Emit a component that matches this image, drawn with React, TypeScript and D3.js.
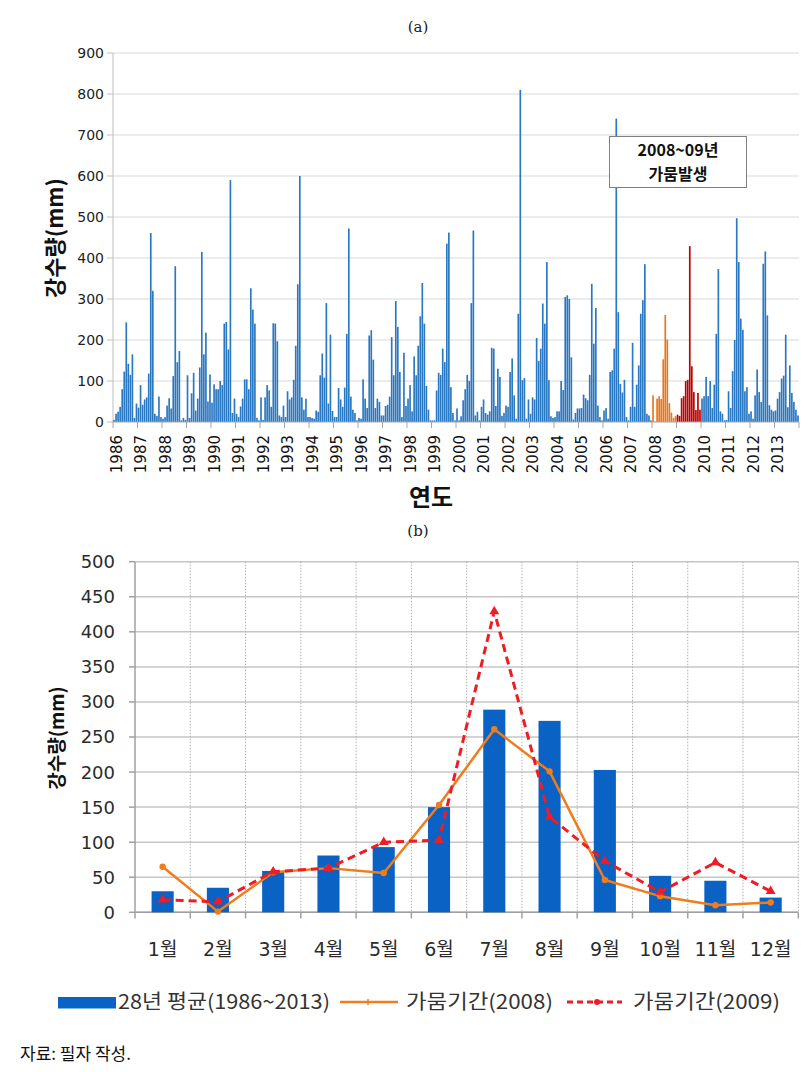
import React from "react";
import * as d3 from "d3";

// ---------- Chart (a): monthly rainfall 1986–2013 ----------
const yearLabels = [
  "1986", "1987", "1988", "1989", "1990", "1991", "1992", "1993", "1994", "1995",
  "1996", "1997", "1998", "1999", "2000", "2001", "2002", "2003", "2004", "2005",
  "2006", "2007", "2008", "2009", "2010", "2011", "2012", "2013",
];

const r1986 = [5, 20, 25, 37, 80, 123, 243, 142, 115, 165, 10, 45];
const r1987 = [35, 90, 42, 55, 60, 118, 461, 320, 20, 15, 62, 12];
const r1988 = [8, 12, 40, 58, 33, 112, 380, 146, 173, 4, 10, 5];
const r1989 = [114, 10, 70, 120, 28, 57, 133, 415, 165, 218, 50, 116];
const r1990 = [47, 92, 80, 80, 100, 90, 240, 244, 177, 590, 22, 57];
const r1991 = [20, 12, 38, 57, 104, 104, 80, 326, 274, 240, 10, 4];
const r1992 = [60, 5, 60, 90, 77, 37, 241, 240, 197, 16, 12, 40];
const r1993 = [12, 75, 55, 60, 103, 186, 336, 600, 60, 30, 57, 12];
const r1994 = [12, 10, 8, 28, 25, 114, 167, 108, 290, 45, 213, 27];
const r1995 = [12, 12, 83, 55, 37, 84, 215, 472, 62, 30, 22, 4];
const r1996 = [10, 8, 104, 57, 34, 211, 224, 152, 34, 57, 49, 16];
const r1997 = [16, 39, 42, 62, 207, 114, 295, 232, 122, 12, 169, 39];
const r1998 = [57, 90, 26, 160, 114, 186, 258, 339, 240, 88, 30, 4];
const r1999 = [4, 4, 77, 120, 115, 179, 146, 435, 462, 85, 22, 4];
const r2000 = [33, 4, 14, 53, 80, 115, 100, 290, 467, 16, 25, 4];
const r2001 = [37, 55, 22, 18, 26, 181, 179, 39, 130, 110, 15, 22];
const r2002 = [40, 37, 122, 155, 65, 8, 264, 810, 102, 107, 8, 55];
const r2003 = [20, 60, 55, 205, 149, 179, 289, 240, 390, 102, 14, 10];
const r2004 = [12, 26, 26, 100, 78, 305, 309, 300, 158, 6, 22, 33];
const r2005 = [33, 34, 67, 58, 53, 115, 337, 191, 278, 40, 12, 4];
const r2006 = [28, 34, 8, 122, 126, 179, 740, 268, 93, 72, 103, 12];
const r2007 = [4, 37, 193, 37, 91, 138, 264, 297, 385, 20, 16, 4];
const r2010 = [57, 63, 110, 63, 100, 34, 91, 215, 373, 26, 20, 4];
const r2011 = [5, 75, 34, 124, 200, 497, 390, 252, 225, 75, 85, 20];
const r2012 = [26, 8, 65, 128, 73, 49, 386, 416, 260, 41, 30, 26];
const r2013 = [28, 57, 73, 106, 113, 213, 36, 138, 71, 49, 30, 16];

// ---------- Chart (b): monthly comparison ----------
const monthLabels = ["1월", "2월", "3월", "4월", "5월", "6월", "7월", "8월", "9월", "10월", "11월", "12월"];
const avg28 = [30, 35, 59, 81, 93, 150, 289, 273, 203, 52, 45, 21];
const drought2008 = [65, 1, 57, 63, 56, 153, 261, 201, 46, 23, 10, 14];
const drought2009 = [18, 15, 58, 63, 100, 103, 429, 136, 73, 29, 71, 30];

const r2008 = drought2008;
const r2009 = drought2009;

const yearlyRain = [
  r1986, r1987, r1988, r1989, r1990, r1991, r1992, r1993, r1994, r1995,
  r1996, r1997, r1998, r1999, r2000, r2001, r2002, r2003, r2004, r2005,
  r2006, r2007, r2008, r2009, r2010, r2011, r2012, r2013,
];

const topTicks = [0, 100, 200, 300, 400, 500, 600, 700, 800, 900];
const botTicks = [0, 50, 100, 150, 200, 250, 300, 350, 400, 450, 500];

const SANS = "'DejaVu Sans', 'Noto Sans CJK KR', sans-serif";
const KR = "'Noto Sans CJK KR', sans-serif";

export default function App() {
  const W = 811;
  const H = 1072;

  // ---- top chart scales ----
  const nMonths = yearlyRain.length * 12;
  const xLin = d3.scaleLinear().domain([0, nMonths]).range([113, 799]);
  const xTop = d3
    .scaleBand<number>()
    .domain(d3.range(nMonths))
    .range([113, 799])
    .paddingInner(0.18)
    .paddingOuter(0.09);
  const yTop = d3.scaleLinear().domain([0, 900]).range([422, 53]);

  const monthly = yearlyRain.flatMap((arr, yi) =>
    arr.map((v, mi) => ({ i: yi * 12 + mi, v, year: yearLabels[yi] }))
  );
  const barColor = (year: string) =>
    year === "2008" ? "#e8761c" : year === "2009" ? "#c00000" : "#2b78c2";

  // ---- bottom chart scales ----
  const xBot = d3
    .scaleBand<string>()
    .domain(monthLabels)
    .range([135, 798.3])
    .paddingInner(0.6)
    .paddingOuter(0.3);
  const yBot = d3.scaleLinear().domain([0, 500]).range([912.3, 561.7]);
  const step = xBot.step();
  const cx = (m: string) => (xBot(m) as number) + xBot.bandwidth() / 2;
  const boundaries = d3.range(monthLabels.length + 1).map((k) => 135 + k * step);

  const line = d3
    .line<number>()
    .x((_, i) => cx(monthLabels[i]))
    .y((d) => yBot(d));

  const tri = d3.symbol().type(d3.symbolTriangle).size(42)();

  return (
    <svg
      width={W}
      height={H}
      viewBox={`0 0 ${W} ${H}`}
      style={{ position: "absolute", left: 0, top: 0, background: "#fff" }}
    >
      <rect x={0} y={0} width={W} height={H} fill="#fff" />

      {/* ================= (a) ================= */}
      <text x={418} y={32} textAnchor="middle" fontFamily="'DejaVu Serif', serif" fontSize={15} fill="#222">
        (a)
      </text>

      {/* gridlines */}
      {topTicks.slice(1).map((t) => (
        <line key={"gt" + t} x1={113} x2={799} y1={yTop(t)} y2={yTop(t)} stroke="#d9d9d9" strokeWidth={1} />
      ))}
      {/* y axis */}
      <line x1={113} x2={113} y1={53} y2={422} stroke="#bfbfbf" strokeWidth={1} />
      {topTicks.map((t) => (
        <g key={"yt" + t}>
          <line x1={107} x2={113} y1={yTop(t)} y2={yTop(t)} stroke="#bfbfbf" />
          <text x={104} y={yTop(t)} dy="0.36em" textAnchor="end" fontFamily={SANS} fontSize={14} fill="#222">
            {t}
          </text>
        </g>
      ))}

      {/* bars */}
      {monthly.map((d) => (
        <rect
          key={"b" + d.i}
          x={xTop(d.i)}
          y={yTop(d.v)}
          width={xTop.bandwidth()}
          height={yTop(0) - yTop(d.v)}
          fill={barColor(d.year)}
        />
      ))}

      {/* x axis */}
      <line x1={113} x2={799} y1={422} y2={422} stroke="#a6a6a6" strokeWidth={1} />
      {d3.range(yearLabels.length + 1).map((k) => (
        <line key={"xt" + k} x1={xLin(k * 12)} x2={xLin(k * 12)} y1={422} y2={428} stroke="#a6a6a6" />
      ))}
      {yearLabels.map((y, k) => (
        <text
          key={"yl" + y}
          transform={`translate(${xLin(k * 12) + 3.5},435) rotate(-90)`}
          dy="0.36em"
          textAnchor="end"
          fontFamily={SANS}
          fontSize={15}
          fill="#111"
        >
          {y}
        </text>
      ))}

      {/* annotation */}
      <rect x={609.5} y={136.5} width={137} height={51} fill="#fff" stroke="#808080" strokeWidth={1} />
      <text x={678} y={156} textAnchor="middle" fontFamily={KR} fontSize={16} fontWeight={600} fill="#111">
        2008~09년
      </text>
      <text x={678} y={180} textAnchor="middle" fontFamily={KR} fontSize={16} fontWeight={600} fill="#111">
        가뭄발생
      </text>

      {/* axis titles */}
      <text
        transform="translate(63,238) rotate(-90)"
        textAnchor="middle"
        fontFamily={KR}
        fontSize={22}
        fontWeight={700}
        fill="#111"
      >
        강수량(mm)
      </text>
      <text x={431} y={506} textAnchor="middle" fontFamily={KR} fontSize={24} fontWeight={700} fill="#111">
        연도
      </text>

      {/* ================= (b) ================= */}
      <text x={418} y={536} textAnchor="middle" fontFamily="'DejaVu Serif', serif" fontSize={15} fill="#222">
        (b)
      </text>

      {botTicks.map((t) => (
        <line key={"bg" + t} x1={135} x2={798.3} y1={yBot(t)} y2={yBot(t)} stroke="#c6c6c6" strokeWidth={1.5} />
      ))}
      {boundaries.slice(1).map((b, k) => (
        <line
          key={"vb" + k}
          x1={b}
          x2={b}
          y1={561.7}
          y2={912.3}
          stroke="#b0b0b0"
          strokeWidth={1}
          strokeDasharray="1.5 1.5"
        />
      ))}
      {/* y axis */}
      <line x1={135} x2={135} y1={561.7} y2={912.3} stroke="#a0a0a0" strokeWidth={1.5} />
      {botTicks.map((t) => (
        <g key={"by" + t}>
          <line x1={129} x2={135} y1={yBot(t)} y2={yBot(t)} stroke="#a0a0a0" strokeWidth={1.5} />
          <text x={115} y={yBot(t)} dy="0.36em" textAnchor="end" fontFamily={SANS} fontSize={18} fill="#2b2b2b">
            {t}
          </text>
        </g>
      ))}
      {/* x axis */}
      <line x1={135} x2={798.3} y1={912.3} y2={912.3} stroke="#a0a0a0" strokeWidth={1.5} />
      {boundaries.map((b, k) => (
        <line key={"bx" + k} x1={b} x2={b} y1={912.3} y2={918.5} stroke="#a0a0a0" strokeWidth={1.5} />
      ))}
      {monthLabels.map((m) => (
        <text key={"ml" + m} x={cx(m)} y={956} textAnchor="middle" fontFamily={SANS} fontSize={19} fill="#2b2b2b">
          {m}
        </text>
      ))}

      {/* average bars */}
      {avg28.map((v, i) => (
        <rect
          key={"ab" + i}
          x={xBot(monthLabels[i])}
          y={yBot(v)}
          width={xBot.bandwidth()}
          height={yBot(0) - yBot(v)}
          fill="#0a62c4"
        />
      ))}

      {/* 2008 line */}
      <path d={line(drought2008) || ""} fill="none" stroke="#f07c1c" strokeWidth={2.5} strokeLinejoin="round" />
      {drought2008.map((v, i) => (
        <circle key={"o" + i} cx={cx(monthLabels[i])} cy={yBot(v)} r={3.2} fill="#f07c1c" />
      ))}

      {/* 2009 line */}
      <path
        d={line(drought2009) || ""}
        fill="none"
        stroke="#ee1c25"
        strokeWidth={3}
        strokeDasharray="8 5"
        strokeLinejoin="round"
      />
      {drought2009.map((v, i) => (
        <path key={"r" + i} d={tri || ""} transform={`translate(${cx(monthLabels[i])},${yBot(v)})`} fill="#ee1c25" />
      ))}

      {/* y title */}
      <text
        transform="translate(64,738) rotate(-90)"
        textAnchor="middle"
        fontFamily={KR}
        fontSize={19}
        fontWeight={700}
        fill="#111"
      >
        강수량(mm)
      </text>

      {/* legend */}
      <rect x={58} y={997} width={58} height={11.5} fill="#0a62c4" />
      <text x={118} y={1009} fontFamily={KR} fontSize={20} fill="#333" textLength={212} lengthAdjust="spacingAndGlyphs">
        28년 평균(1986~2013)
      </text>
      <line x1={340} x2={398} y1={1002} y2={1002} stroke="#f07c1c" strokeWidth={2.5} />
      <line x1={368} x2={368} y1={999} y2={1005} stroke="#f07c1c" strokeWidth={1.5} />
      <text x={406} y={1009} fontFamily={KR} fontSize={20} fill="#333" textLength={147} lengthAdjust="spacingAndGlyphs">
        가뭄기간(2008)
      </text>
      <line x1={567} x2={622} y1={1002} y2={1002} stroke="#ee1c25" strokeWidth={3} strokeDasharray="6 4" />
      <circle cx={597} cy={1002} r={3} fill="#ee1c25" />
      <text x={633} y={1009} fontFamily={KR} fontSize={20} fill="#333" textLength={147} lengthAdjust="spacingAndGlyphs">
        가뭄기간(2009)
      </text>

      {/* source */}
      <text x={20} y={1060} fontFamily={KR} fontSize={17} fill="#111">
        자료: 필자 작성.
      </text>
    </svg>
  );
}
